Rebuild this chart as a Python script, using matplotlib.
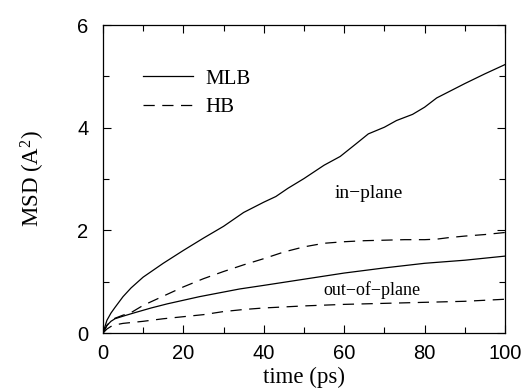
import matplotlib
matplotlib.use("Agg")
import matplotlib.pyplot as plt
from matplotlib.ticker import MultipleLocator

plt.rcParams['mathtext.fontset'] = 'custom'
plt.rcParams['mathtext.rm'] = 'Liberation Serif'
plt.rcParams['mathtext.it'] = 'Liberation Serif:italic'

# MLB in-plane
t_mlb_in = [0, 1, 2, 3, 5, 7, 10, 15, 20, 25, 30, 35, 40, 43, 46, 50, 55, 59, 63, 66,
            70, 73, 77, 80, 83, 87, 90, 95, 100]
v_mlb_in = [0, 0.25, 0.39, 0.50, 0.71, 0.88, 1.09, 1.36, 1.61, 1.85, 2.08, 2.35, 2.55, 2.66,
            2.82, 3.01, 3.27, 3.44, 3.69, 3.88, 4.01, 4.14, 4.26, 4.40, 4.58, 4.74, 4.86, 5.05, 5.23]
# HB in-plane
t_hb_in = [0, 1, 2, 3, 5, 7, 10, 15, 20, 25, 30, 35, 40, 45, 50, 55, 60, 65, 70, 75, 80,
           83, 86, 90, 95, 100]
v_hb_in = [0, 0.15, 0.24, 0.29, 0.35, 0.40, 0.54, 0.72, 0.90, 1.06, 1.20, 1.33, 1.45, 1.58,
           1.68, 1.75, 1.78, 1.80, 1.81, 1.82, 1.82, 1.83, 1.86, 1.89, 1.92, 1.96]
# MLB out-of-plane
t_mlb_out = [0, 1, 2, 3, 5, 8, 12, 16, 20, 24, 30, 34, 40, 50, 60, 70, 80, 90, 100]
v_mlb_out = [0, 0.15, 0.23, 0.28, 0.33, 0.40, 0.49, 0.57, 0.64, 0.71, 0.80, 0.86, 0.93,
             1.05, 1.17, 1.27, 1.36, 1.42, 1.50]
# HB out-of-plane
t_hb_out = [0, 1, 2, 3, 5, 10, 15, 20, 25, 30, 35, 40, 50, 60, 70, 80, 90, 100]
v_hb_out = [0, 0.08, 0.13, 0.16, 0.19, 0.23, 0.28, 0.32, 0.36, 0.42, 0.46, 0.49, 0.53,
            0.56, 0.58, 0.60, 0.62, 0.66]

x_ticks = [0, 20, 40, 60, 80, 100]
y_ticks = [0, 2, 4, 6]

fig = plt.figure(figsize=(5.25, 3.91), dpi=100)
ax = fig.add_axes([0.196, 0.148, 0.766, 0.788])

lw = 0.9
dash = (0, (9, 6))
ax.plot(t_mlb_in, v_mlb_in, color='black', lw=lw, label='MLB')
ax.plot(t_hb_in, v_hb_in, color='black', lw=lw, linestyle=dash, label='HB')
ax.plot(t_mlb_out, v_mlb_out, color='black', lw=lw)
ax.plot(t_hb_out, v_hb_out, color='black', lw=lw, linestyle=dash)

ax.set_xlim(0, 100)
ax.set_ylim(0, 6)
ax.set_xticks(x_ticks)
ax.set_yticks(y_ticks)
ax.xaxis.set_minor_locator(MultipleLocator(10))
ax.yaxis.set_minor_locator(MultipleLocator(1))
ax.tick_params(which='both', direction='in', top=True, right=True, width=0.8)
ax.tick_params(which='major', length=6)
ax.tick_params(which='minor', length=4)
for lab in ax.get_xticklabels() + ax.get_yticklabels():
    lab.set_fontfamily('Liberation Sans')
    lab.set_fontsize(14.5)
ax.tick_params(axis='x', pad=8)
ax.tick_params(axis='y', pad=10.5)
for s in ax.spines.values():
    s.set_linewidth(0.9)

ax.set_xlabel('time (ps)', fontfamily='Liberation Serif', fontsize=16.5, labelpad=2.5)
ax.set_ylabel('MSD (A$^2$)', fontfamily='Liberation Serif', fontsize=16.5, labelpad=22)

ax.text(66, 2.72, 'in\u2212plane', fontfamily='Liberation Serif', fontsize=14,
        ha='center', va='center')
ax.text(67, 0.84, 'out\u2212of\u2212plane', fontfamily='Liberation Serif', fontsize=13,
        ha='center', va='center')

leg = ax.legend(loc='upper left', bbox_to_anchor=(0.053, 0.918), frameon=False,
                prop={'family': 'Liberation Serif', 'size': 15},
                handlelength=2.4, handletextpad=0.6, labelspacing=0.42)

fig.savefig('out.png', dpi=100)
